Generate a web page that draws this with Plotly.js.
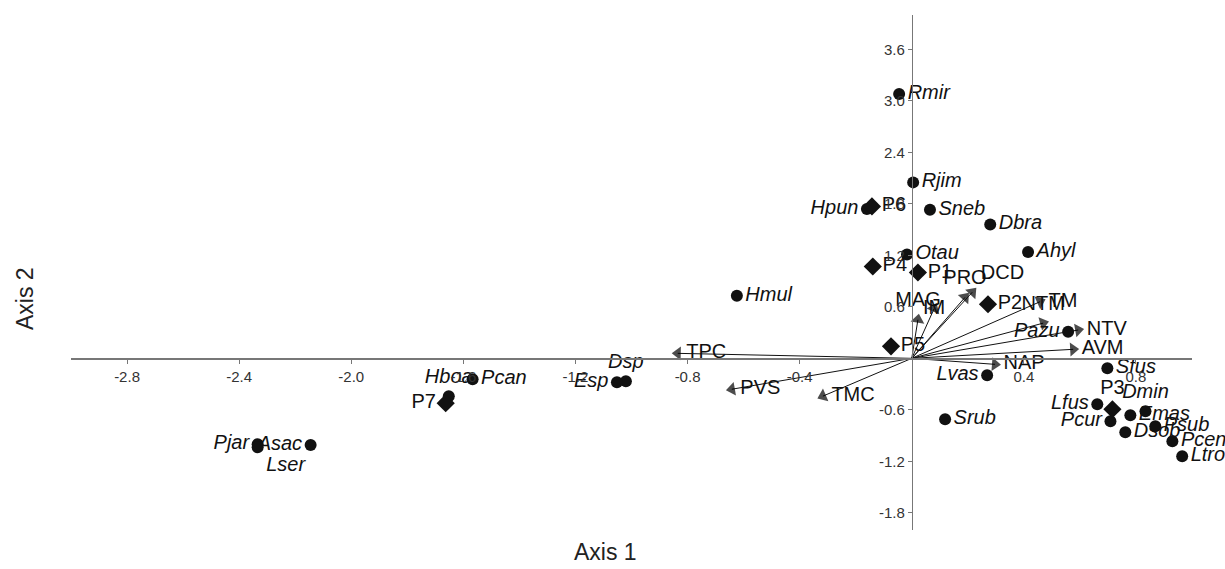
<!DOCTYPE html>
<html>
<head>
<meta charset="utf-8">
<script src="https://cdn.plot.ly/plotly-3.0.1.min.js"></script>
<style>html,body{margin:0;padding:0;background:#fff;}#chart{width:1225px;height:569px;}</style>
</head>
<body>
<div id="chart"></div>
<script>
// Species scores (circles)
const speciesNames = ["Rmir","Rjim","Sneb","Hpun","Dbra","Otau","Ahyl","Hmul","Pazu","Sfus","Lvas","Srub","Dsp","Esp","Hboa","Pcan","Pjar","Asac","Lser","Lfus","Dmin","Pcur","Emas","Dsob","Psub","Pcen","Ltro"];
const speciesX = [-0.045,0.005,0.065,-0.160,0.280,-0.017,0.415,-0.624,0.558,0.698,0.269,0.119,-1.020,-1.052,-1.652,-1.567,-2.334,-2.145,-2.334,0.662,0.834,0.709,0.780,0.762,0.869,0.930,0.965];
const speciesY = [3.08,2.05,1.73,1.74,1.56,1.21,1.24,0.73,0.31,-0.116,-0.198,-0.709,-0.267,-0.279,-0.442,-0.244,-1.00,-1.01,-1.035,-0.535,-0.616,-0.733,-0.663,-0.86,-0.79,-0.965,-1.14];
const speciesLabelPos = ["middle right","middle right","middle right","middle left","middle right","middle right","middle right","middle right","middle left","middle right","middle left","middle right","top center","middle left","top center","middle right","middle left","middle left","bottom right","middle left","top center","middle left","middle right","middle right","middle right","middle right","middle right"];

// Site scores (diamonds)
const siteNames = ["P6","P4","P1","P2","P5","P3","P7"];
const siteX = [-0.142,-0.139,0.022,0.272,-0.074,0.716,-1.663];
const siteY = [1.77,1.07,1.00,0.63,0.14,-0.593,-0.523];
const siteLabelPos = ["middle right","middle right","middle right","middle right","middle right","top center","middle left"];

// Environmental vectors (arrows from origin)
const vectorNames = ["TPC","PVS","TMC","MAG","IM","PRO","DCD","TM","NTM","NTV","AVM","NAP"];
const vectorX = [-0.835,-0.642,-0.317,0.022,0.080,0.190,0.216,0.458,0.469,0.594,0.576,0.297];
const vectorY = [0.058,-0.36,-0.44,0.45,0.58,0.71,0.77,0.66,0.41,0.33,0.105,-0.07];
const vectorLabelPos = ["middle right","middle right","middle right","top center","middle center","top center","top right","middle right","top center","middle right","middle right","middle right"];

// Axis ticks
const xTickVals = [-2.8,-2.4,-2.0,-1.6,-1.2,-0.8,-0.4,0.4,0.8];
const yTickVals = [-1.8,-1.2,-0.6,0.6,1.2,1.8,2.4,3.0,3.6];

const FONT = "Liberation Sans, Arial, sans-serif";
const traces = [];

vectorNames.forEach((name, i) => {
  traces.push({
    type: "scatter",
    x: [0, vectorX[i]],
    y: [0, vectorY[i]],
    mode: "lines+markers+text",
    line: {color: "#111", width: 1},
    marker: {symbol: ["circle", "triangle-up"], size: [0, 12], color: "#000", line: {width: 0}, angleref: "previous"},
    text: ["", name],
    textposition: ["middle right", vectorLabelPos[i]],
    textfont: {family: FONT, size: 20, color: "#111"},
    hoverinfo: "skip",
    cliponaxis: false
  });
});

traces.push({
  type: "scatter",
  x: speciesX,
  y: speciesY,
  mode: "markers+text",
  marker: {symbol: "circle", size: 12, color: "#111"},
  text: speciesNames,
  textposition: speciesLabelPos,
  textfont: {family: FONT, size: 20, color: "#111", style: "italic"},
  cliponaxis: false
});

traces.push({
  type: "scatter",
  x: siteX,
  y: siteY,
  mode: "markers+text",
  marker: {symbol: "diamond", size: 14, color: "#111"},
  text: siteNames,
  textposition: siteLabelPos,
  textfont: {family: FONT, size: 20, color: "#111"},
  cliponaxis: false
});

const layout = {
  width: 1225,
  height: 569,
  margin: {l: 71, r: 33, t: 15, b: 39},
  paper_bgcolor: "#fff",
  plot_bgcolor: "#fff",
  showlegend: false,
  xaxis: {
    range: [-3, 1],
    anchor: "free",
    position: 2/6,
    showgrid: false,
    zeroline: false,
    showline: true,
    linecolor: "#777",
    linewidth: 1.2,
    ticks: "outside",
    ticklen: 4,
    tickcolor: "#777",
    tickvals: xTickVals,
    ticktext: xTickVals.map(v => v.toFixed(1)),
    tickfont: {family: FONT, size: 15, color: "#333"}
  },
  yaxis: {
    range: [-2, 4],
    anchor: "free",
    position: 0.75,
    showgrid: false,
    zeroline: false,
    showline: true,
    linecolor: "#777",
    linewidth: 1.2,
    ticks: "outside",
    ticklen: 4,
    tickcolor: "#777",
    tickvals: yTickVals,
    ticktext: yTickVals.map(v => v.toFixed(1)),
    tickfont: {family: FONT, size: 15, color: "#333"}
  },
  annotations: [
    {text: "Axis 1", xref: "paper", yref: "paper", x: (605-71)/1121, y: (530-552)/515, showarrow: false, font: {family: FONT, size: 23, color: "#222"}, xanchor: "center", yanchor: "middle"},
    {text: "Axis 2", xref: "paper", yref: "paper", x: (25-71)/1121, y: (530-299)/515, showarrow: false, textangle: -90, font: {family: FONT, size: 23, color: "#222"}, xanchor: "center", yanchor: "middle"}
  ]
};

Plotly.newPlot("chart", traces, layout, {displayModeBar: false, staticPlot: true});
</script>
</body>
</html>
